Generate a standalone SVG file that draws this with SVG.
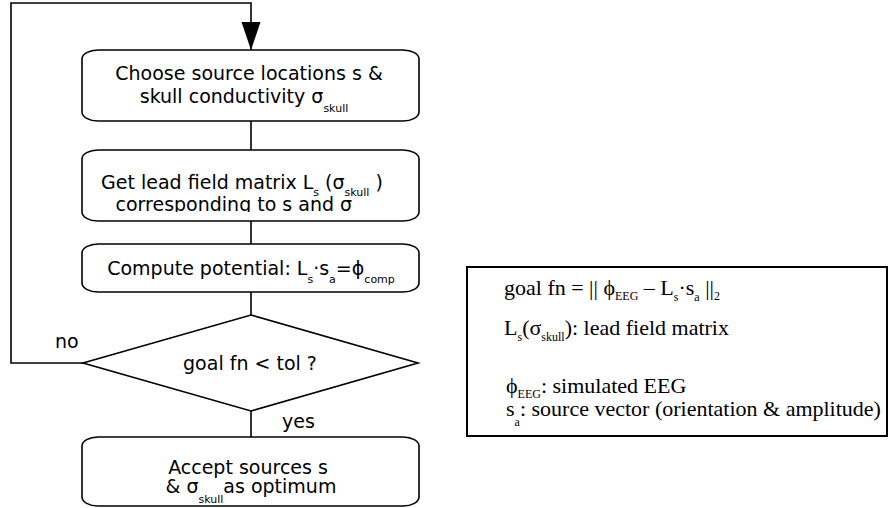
<svg xmlns="http://www.w3.org/2000/svg" width="890" height="508" viewBox="0 0 890 508">
  <style>
    .box { fill: #ffffff; stroke: #000000; stroke-width: 1.6; }
    .flow { fill: none; stroke: #000000; stroke-width: 1.6; }
    .lbl { font-family: "DejaVu Sans", sans-serif; font-size: 19px; fill: #000000; }
    .sub { font-size: 11px; }
    .note { font-family: "Liberation Serif", "Times New Roman", serif; font-size: 22px; fill: #000000; }
    .nsub { font-size: 12px; }
    .legend { fill: #ffffff; stroke: #000000; stroke-width: 2; }
  </style>
  <defs>
    <marker id="arrow" markerUnits="userSpaceOnUse" markerWidth="30" markerHeight="20" refX="28" refY="9.5" orient="auto">
      <path d="M0,0 L28,9.5 L0,19 Z" fill="#000000"/>
    </marker>
    <clipPath id="clip-lead">
      <rect x="82" y="150" width="337" height="62"/>
    </clipPath>
    <clipPath id="clip-accept">
      <rect x="82" y="437" width="337" height="67"/>
    </clipPath>
  </defs>

  <!-- connectors -->
  <g id="connectors">
    <polyline class="flow" points="83,363 11,363 11,3 251,3 251,50" marker-end="url(#arrow)"/>
    <line class="flow" x1="251" y1="121" x2="251" y2="150"/>
    <line class="flow" x1="251" y1="221" x2="251" y2="244"/>
    <line class="flow" x1="251" y1="292" x2="251" y2="315"/>
    <line class="flow" x1="251" y1="411" x2="251" y2="437"/>
    <text class="lbl" x="55" y="348">no</text>
    <text class="lbl" x="282" y="428">yes</text>
  </g>

  <!-- step 1 -->
  <g id="choose">
    <rect class="box" x="82" y="50" width="337" height="71" rx="16" ry="9"/>
    <text class="lbl" x="249" y="80" text-anchor="middle">Choose source locations s &amp;</text>
    <text class="lbl" x="244" y="103" text-anchor="middle">skull conductivity σ<tspan class="sub" dy="9">skull</tspan></text>
  </g>

  <!-- step 2 -->
  <g id="leadfield">
    <rect class="box" x="82" y="150" width="337" height="71" rx="16" ry="9"/>
    <g clip-path="url(#clip-lead)">
      <text class="lbl" x="242" y="189" text-anchor="middle">Get lead field matrix L<tspan class="sub" dy="7">s</tspan><tspan dy="-7"> (σ</tspan><tspan class="sub" dy="7">skull</tspan><tspan dy="-7"> )</tspan></text>
      <text class="lbl" x="248" y="211" text-anchor="middle">corresponding to s and σ<tspan class="sub" dy="9"> skull</tspan></text>
    </g>
  </g>

  <!-- step 3 -->
  <g id="potential">
    <rect class="box" x="82" y="244" width="337" height="48" rx="16" ry="9"/>
    <text class="lbl" x="251" y="275" text-anchor="middle">Compute potential: L<tspan class="sub" dy="8">s</tspan><tspan dy="-8">·s</tspan><tspan class="sub" dy="8">a</tspan><tspan dy="-8">=ϕ</tspan><tspan class="sub" dy="8">comp</tspan></text>
  </g>

  <!-- decision -->
  <g id="decision">
    <polygon class="box" points="251,315 418,363 251,411 83,363"/>
    <text class="lbl" x="250" y="370" text-anchor="middle">goal fn &lt; tol ?</text>
  </g>

  <!-- result -->
  <g id="accept">
    <rect class="box" x="82" y="437" width="337" height="69" rx="16" ry="9"/>
    <g clip-path="url(#clip-accept)">
      <text class="lbl" x="248" y="474" text-anchor="middle">Accept sources s</text>
      <text class="lbl" x="251" y="493" text-anchor="middle">&amp; σ<tspan class="sub" dy="10">skull</tspan><tspan dy="-10">as optimum</tspan></text>
    </g>
  </g>

  <!-- legend -->
  <g id="legend">
    <rect class="legend" x="467" y="267" width="420" height="169"/>
    <text class="note" x="504" y="295">goal fn = || ϕ<tspan class="nsub" dy="5">EEG</tspan><tspan dy="-5"> – L</tspan><tspan class="nsub" dy="6">s</tspan><tspan dy="-6">·s</tspan><tspan class="nsub" dy="6">a</tspan><tspan dy="-6"> ||</tspan><tspan class="nsub" dy="5">2</tspan></text>
    <text class="note" x="504" y="335">L<tspan class="nsub" dy="6">s</tspan><tspan dy="-6">(σ</tspan><tspan class="nsub" dy="6">skull</tspan><tspan dy="-6">): lead field matrix</tspan></text>
    <text class="note" x="506" y="393">ϕ<tspan class="nsub" dy="5">EEG</tspan><tspan dy="-5">: simulated EEG</tspan></text>
    <text class="note" x="506" y="416">s<tspan class="nsub" dy="10">a</tspan><tspan dy="-10">: source vector (orientation &amp; amplitude)</tspan></text>
  </g>
</svg>
